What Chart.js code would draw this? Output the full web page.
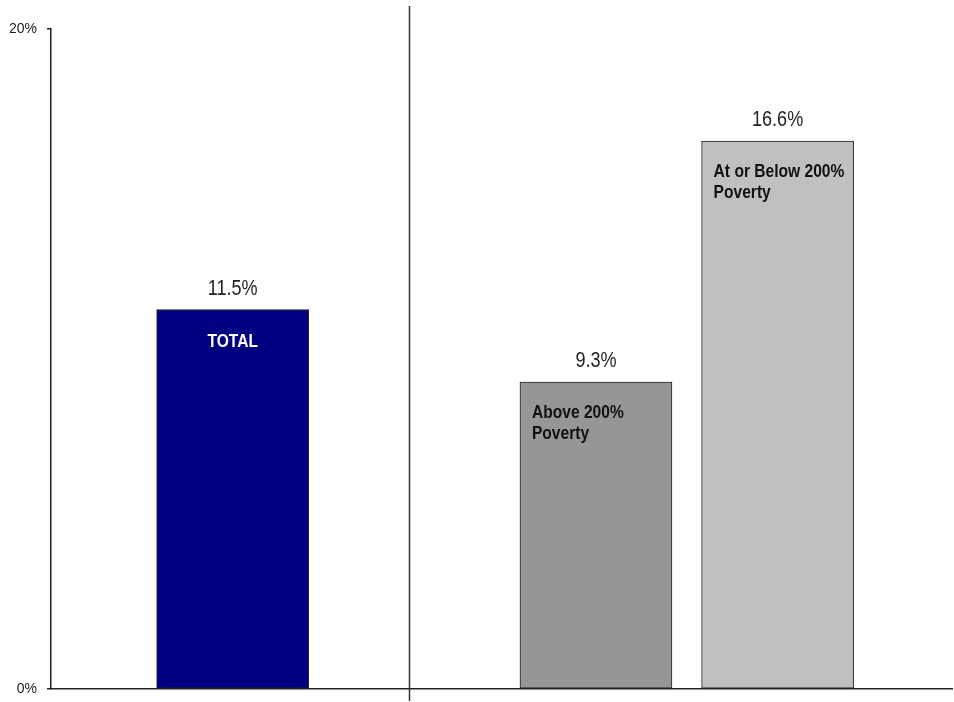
<!DOCTYPE html>
<html>
<head>
<meta charset="utf-8">
<script src="https://cdn.jsdelivr.net/npm/chart.js@4/dist/chart.umd.min.js"></script>
<style>
    html, body { margin: 0; padding: 0; background: #ffffff; }
    #wrap { width: 954px; height: 702px; }
</style>
</head>
<body>
<div id="wrap"><canvas id="chart" width="954" height="702"></canvas></div>
<script>
// Data
const categories = ['TOTAL', 'Above 200%\nPoverty', 'At or Below 200%\nPoverty'];
const slots = [1, 3, 4];            // position of each bar on the x axis
const values = [11.5, 9.3, 16.6];
const barColors = ['#000080', '#969696', '#c0c0c0'];
const yTicks = [0, 20];
const dividerAt = 1.97;            // the vertical separator between TOTAL and the poverty groups
const xMax = 4.96;

const FONT = '"Liberation Sans", Arial, sans-serif';
const inkColor = '#222222';
const NARROW_SCALE = 0.82;         // squeeze text horizontally, the original uses Arial Narrow

// fillText squeezed horizontally around the anchor point
function fillNarrow(ctx, text, x, y) {
    ctx.save();
    ctx.translate(x, y);
    ctx.scale(NARROW_SCALE, 1);
    ctx.fillText(text, 0, 0);
    ctx.restore();
}

/**
 * Draws the value labels above the bars, the category labels inside them,
 * and the vertical divider line.
 */
const barLabels = {
    id: 'barLabels',
    afterDatasetsDraw(chart) {
        const ctx = chart.ctx;
        const meta = chart.getDatasetMeta(0);
        ctx.save();
        ctx.textBaseline = 'alphabetic';
        meta.data.forEach((bar, i) => {
            const left = bar.x - bar.width / 2;

            // value above the bar
            ctx.font = `22px ${FONT}`;
            ctx.fillStyle = inkColor;
            ctx.textAlign = 'center';
            fillNarrow(ctx, values[i].toFixed(1) + '%', bar.x, bar.y - 15);

            // category text inside the bar
            const lines = categories[i].split('\n');
            ctx.font = `bold 19px ${FONT}`;
            if (i === 0) {
                ctx.fillStyle = '#ffffff';
                ctx.textAlign = 'center';
                lines.forEach((line, k) => fillNarrow(ctx, line, bar.x, bar.y + 37 + k * 21));
            } else {
                ctx.fillStyle = '#111111';
                ctx.textAlign = 'left';
                lines.forEach((line, k) => fillNarrow(ctx, line, left + 12, bar.y + 36 + k * 21));
            }
        });
        ctx.restore();
    },
    afterDraw(chart) {
        const ctx = chart.ctx;
        const x = Math.round(chart.scales.x.getPixelForValue(dividerAt)) + 0.5;
        ctx.save();
        ctx.strokeStyle = '#333333';
        ctx.lineWidth = 1.5;
        ctx.beginPath();
        ctx.moveTo(x, 6);
        ctx.lineTo(x, 701);
        ctx.stroke();
        ctx.restore();
    }
};

new Chart(document.getElementById('chart'), {
    type: 'bar',
    data: {
        datasets: [{
            data: values.map((v, i) => ({ x: slots[i], y: v })),
            backgroundColor: barColors,
            borderColor: inkColor,
            borderWidth: 1,
            borderSkipped: false,
            barThickness: 152,
        }]
    },
    options: {
        responsive: false,
        animation: false,
        layout: { padding: { top: 29, right: 2, bottom: 13, left: 0 } },
        plugins: {
            legend: { display: false },
            tooltip: { enabled: false },
        },
        scales: {
            x: {
                type: 'linear',
                min: 0,
                max: xMax,
                offset: false,
                grid: { display: false },
                border: { display: true, color: inkColor, width: 1.5 },
                ticks: { display: false, padding: 0 },
                afterFit: (scale) => {
                    scale.height = 0;
                    scale.paddingLeft = scale.paddingRight = 0;
                },
            },
            y: {
                min: yTicks[0],
                max: yTicks[yTicks.length - 1],
                afterBuildTicks: (scale) => { scale.ticks = yTicks.map(v => ({ value: v })); },
                grid: {
                    drawOnChartArea: false,
                    drawTicks: true,
                    tickLength: 4,
                    color: inkColor,
                    lineWidth: 1.5,
                },
                border: { display: true, color: inkColor, width: 1.5 },
                ticks: {
                    padding: 10,
                    color: inkColor,
                    font: { family: FONT, size: 14 },
                    callback: (v) => v + '%',
                },
                afterFit: (scale) => {
                    scale.width = 51;
                    scale.paddingTop = scale.paddingBottom = 0;
                },
            }
        }
    },
    plugins: [barLabels]
});
</script>
</body>
</html>
